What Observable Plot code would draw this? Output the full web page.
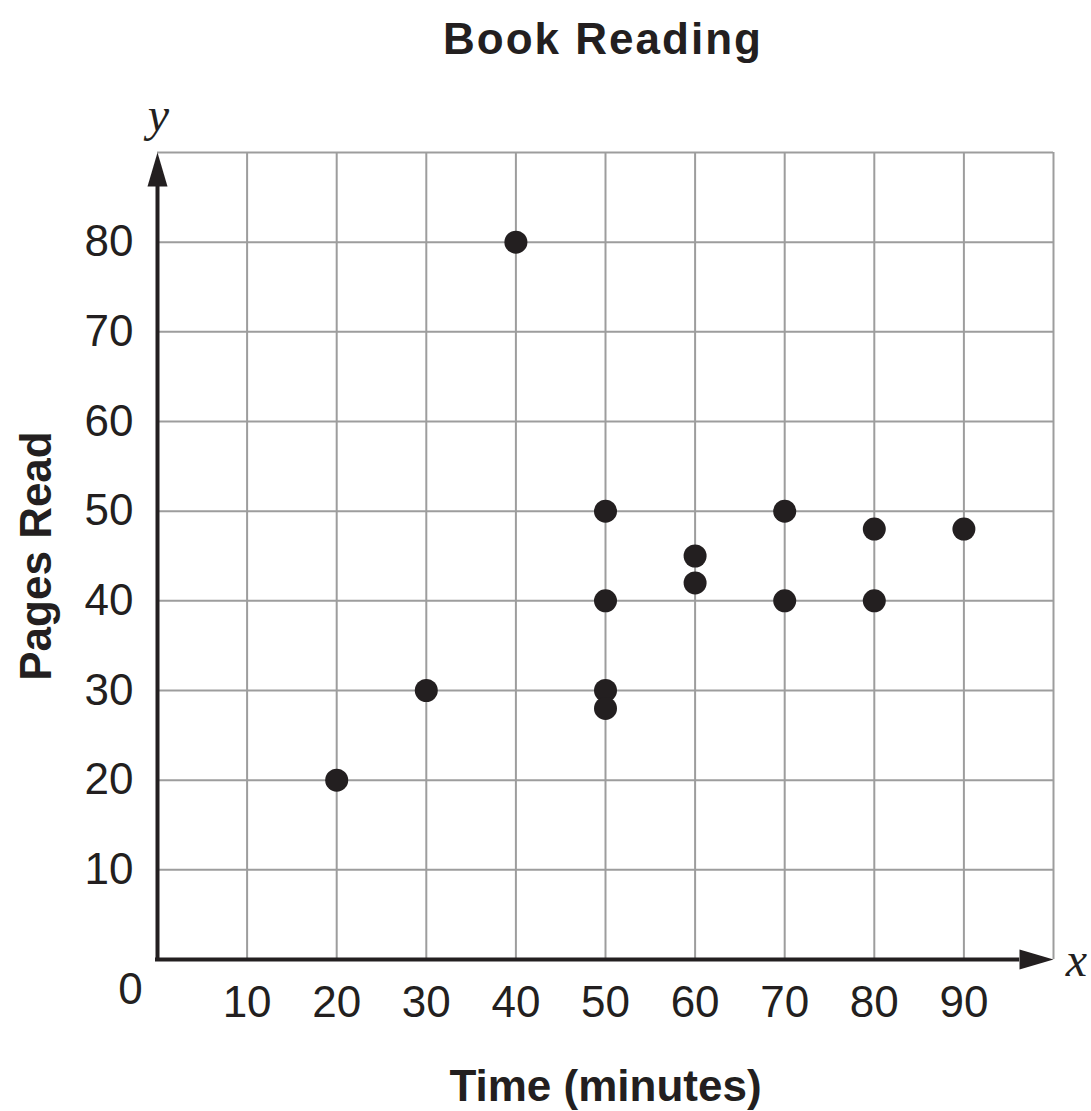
<!DOCTYPE html>
<html>
<head>
<meta charset="utf-8">
<script src="https://cdn.jsdelivr.net/npm/d3@7"></script>
<script src="https://cdn.jsdelivr.net/npm/@observablehq/plot@0.6"></script>
<style>
  body { margin: 0; background: #ffffff; }
  #title {
    font-family: "Liberation Sans", Arial, Helvetica, sans-serif;
    font-weight: bold; font-size: 44px; line-height: 50px; letter-spacing: 2px;
    height: 76px; padding-top: 14px; padding-left: 115px; width: 976px;
    text-align: center; color: #231f20;
  }
</style>
</head>
<body>
<div id="title"></div>
<div id="chart"></div>
<script>
const title = "Book Reading";
const xLabel = "Time (minutes)";
const yLabel = "Pages Read";
const timeMinutes = [20, 30, 40, 50, 50, 50, 50, 60, 60, 70, 70, 80, 80, 90];
const pagesRead   = [20, 30, 80, 50, 40, 30, 28, 45, 42, 50, 40, 48, 40, 48];
const xTicks = [10, 20, 30, 40, 50, 60, 70, 80, 90];
const yTicks = [10, 20, 30, 40, 50, 60, 70, 80];
const xGridLines = [10, 20, 30, 40, 50, 60, 70, 80, 90, 100];
const yGridLines = [10, 20, 30, 40, 50, 60, 70, 80, 90];

document.getElementById("title").textContent = title;

const ink = "#231f20";
const points = timeMinutes.map((t, i) => ({time: t, pages: pagesRead[i]}));

// narrow filled arrowhead: tip at origin, body extending down
const arrowHead = {
  draw(context) {
    context.moveTo(0, 0);
    context.lineTo(-10, 34);
    context.lineTo(10, 34);
    context.closePath();
  }
};

const serif = '"Liberation Serif", "Times New Roman", serif';

const chart = Plot.plot({
  width: 1091,
  height: 1021,
  marginLeft: 157,
  marginRight: 38,
  marginTop: 62,
  marginBottom: 152,
  style: {
    fontFamily: '"Liberation Sans", Arial, Helvetica, sans-serif',
    fontSize: "44px",
    color: ink,
    background: "#ffffff",
    overflow: "visible"
  },
  x: {domain: [0, 100]},
  y: {domain: [0, 90]},
  marks: [
    Plot.gridX(xGridLines, {stroke: "#9d9d9d", strokeWidth: 2, strokeOpacity: 1}),
    Plot.gridY(yGridLines, {stroke: "#9d9d9d", strokeWidth: 2, strokeOpacity: 1}),
    Plot.axisX(xTicks, {tickSize: 0, tickPadding: 26, fontSize: 44, label: null}),
    Plot.axisY(yTicks, {tickSize: 0, tickPadding: 24, fontSize: 44, label: null}),
    Plot.ruleX([0], {y1: 0, y2: 86, stroke: ink, strokeWidth: 4, strokeLinecap: "square"}),
    Plot.ruleY([0], {x1: 0, x2: 96, stroke: ink, strokeWidth: 4, strokeLinecap: "square"}),
    Plot.dot([{x: 0, y: 90}], {x: "x", y: "y", symbol: arrowHead, r: 5, fill: ink, stroke: "none"}),
    Plot.dot([{x: 100, y: 0}], {x: "x", y: "y", symbol: arrowHead, r: 5, fill: ink, stroke: "none", rotate: 90}),
    Plot.dot(points, {x: "time", y: "pages", r: 11.5, fill: ink, stroke: "none"}),
    Plot.text(["0"], {frameAnchor: "bottom-left", text: d => d, textAnchor: "middle", dx: -27, dy: 44, fontSize: 44, fill: ink}),
    Plot.text([xLabel], {frameAnchor: "bottom", text: d => d, textAnchor: "middle", lineAnchor: "bottom", dy: 141, fontSize: 44, fontWeight: "bold", fill: ink}),
    Plot.text([yLabel], {frameAnchor: "left", text: d => d, textAnchor: "middle", lineAnchor: "bottom", rotate: -90, dx: -107, fontSize: 44, fontWeight: "bold", fill: ink}),
    Plot.text(["y"], {frameAnchor: "top-left", text: d => d, textAnchor: "middle", lineAnchor: "bottom", dx: 1, dy: -22, fontSize: 48, fontStyle: "italic", fontFamily: serif, fill: ink}),
    Plot.text(["x"], {frameAnchor: "bottom-right", text: d => d, textAnchor: "middle", lineAnchor: "bottom", dx: 23, dy: 16, fontSize: 48, fontStyle: "italic", fontFamily: serif, fill: ink})
  ]
});
document.getElementById("chart").appendChild(chart);
</script>
</body>
</html>
